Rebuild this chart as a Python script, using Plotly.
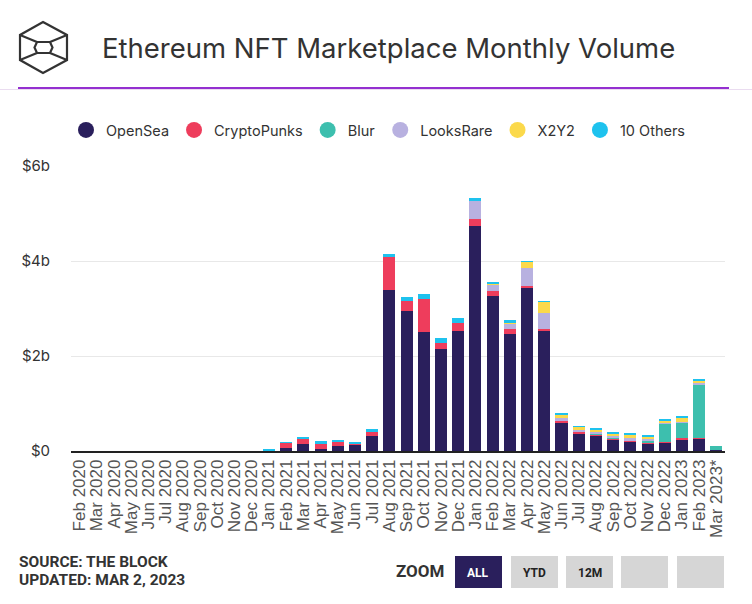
import plotly.graph_objects as go

months = ["Feb 2020", "Mar 2020", "Apr 2020", "May 2020", "Jun 2020", "Jul 2020", "Aug 2020",
          "Sep 2020", "Oct 2020", "Nov 2020", "Dec 2020", "Jan 2021", "Feb 2021", "Mar 2021",
          "Apr 2021", "May 2021", "Jun 2021", "Jul 2021", "Aug 2021", "Sep 2021", "Oct 2021",
          "Nov 2021", "Dec 2021", "Jan 2022", "Feb 2022", "Mar 2022", "Apr 2022", "May 2022",
          "Jun 2022", "Jul 2022", "Aug 2022", "Sep 2022", "Oct 2022", "Nov 2022", "Dec 2022",
          "Jan 2023", "Feb 2023", "Mar 2023*"]

# values in $ billions (2020 months are too small to see in the picture)
opensea = [0, 0, 0, 0, 0, 0, 0, 0, 0, 0, 0,
           0.012, 0.06, 0.15, 0.05, 0.11, 0.14, 0.31, 3.39, 2.95, 2.51, 2.15, 2.53,
           4.74, 3.26, 2.46, 3.43, 2.53, 0.61, 0.36, 0.32, 0.25, 0.21, 0.15, 0.17,
           0.25, 0.27, 0.02]
cryptopunks = [0, 0, 0, 0, 0, 0, 0, 0, 0, 0, 0,
               0.005, 0.11, 0.11, 0.10, 0.08, 0.01, 0.11, 0.69, 0.21, 0.69, 0.13, 0.17,
               0.15, 0.10, 0.10, 0.05, 0.04, 0.02, 0.06, 0.03, 0.02, 0.01, 0.02, 0.01,
               0.02, 0.01, 0.0]
blur = [0, 0, 0, 0, 0, 0, 0, 0, 0, 0, 0,
        0, 0, 0, 0, 0, 0, 0, 0, 0, 0, 0, 0,
        0, 0, 0, 0, 0, 0, 0, 0.02, 0.02, 0.01, 0.06, 0.40,
        0.32, 1.12, 0.09]
looksrare = [0, 0, 0, 0, 0, 0, 0, 0, 0, 0, 0,
             0, 0, 0, 0, 0, 0, 0, 0, 0, 0, 0, 0,
             0.38, 0.15, 0.13, 0.38, 0.34, 0.07, 0.02, 0.03, 0.02, 0.04, 0.04, 0.03,
             0.02, 0.04, 0.0]
x2y2 = [0, 0, 0, 0, 0, 0, 0, 0, 0, 0, 0,
        0, 0, 0, 0, 0, 0, 0, 0, 0, 0, 0, 0,
        0, 0.005, 0.01, 0.13, 0.23, 0.07, 0.07, 0.05, 0.05, 0.08, 0.04, 0.03,
        0.10, 0.05, 0.0]
others = [0, 0, 0, 0, 0, 0, 0, 0, 0, 0, 0,
          0.005, 0.01, 0.04, 0.06, 0.04, 0.03, 0.04, 0.07, 0.08, 0.11, 0.10, 0.10,
          0.06, 0.05, 0.05, 0.01, 0.01, 0.01, 0.01, 0.02, 0.02, 0.01, 0.02, 0.02,
          0.02, 0.02, 0.0]

series_names = ["OpenSea", "CryptoPunks", "Blur", "LooksRare", "X2Y2", "10 Others"]
series_vals = [opensea, cryptopunks, blur, looksrare, x2y2, others]
colors = ["#2a1f5c", "#ee3d5c", "#3dbfae", "#b8b1e0", "#fbd94b", "#1ec2ee"]

ytick_vals = [0, 2, 4, 6]
ytick_text = ["$0", "$2b", "$4b", "$6b"]

W, H = 752, 604
ML, MR, MT, MB = 71, 27, 166, 153
PW, PH = W - ML - MR, H - MT - MB


def px(x):
    return (x - ML) / PW


def py(y):
    return (H - MB - y) / PH


def make_path(pts, close=False):
    s = "M " + " L ".join(f"{px(a):.5f},{py(b):.5f}" for a, b in pts)
    if close:
        s += " Z"
    return s


fig = go.Figure()
for name, vals, col in zip(series_names, series_vals, colors):
    fig.add_trace(go.Bar(x=months, y=vals, name=name, marker_color=col,
                         marker_line_width=0, showlegend=False))
# legend entries with round markers
for name, col in zip(series_names, colors):
    fig.add_trace(go.Scatter(x=[None], y=[None], mode="markers", name=name,
                             marker=dict(color=col, size=17, symbol="circle")))

shapes = []
# header lines
shapes.append(dict(type="line", xref="paper", yref="paper", x0=px(0), x1=px(752),
                   y0=py(89.5), y1=py(89.5), line=dict(color="#eadcf0", width=1)))
shapes.append(dict(type="line", xref="paper", yref="paper", x0=px(18), x1=px(729),
                   y0=py(88), y1=py(88), line=dict(color="#9430d0", width=2)))

logo_col = "#333333"
outer = [(43, 22), (67, 35), (67, 60), (43, 73), (20, 60), (20, 35)]
shapes.append(dict(type="path", xref="paper", yref="paper", path=make_path(outer, True),
                   line=dict(color=logo_col, width=2.2)))
inner = [(37, 42), (50, 42), (52.5, 47.5), (50, 53), (37, 53), (34.5, 47.5)]
shapes.append(dict(type="path", xref="paper", yref="paper", path=make_path(inner, True),
                   line=dict(color=logo_col, width=2.2)))
for seg in [[(20, 35), (37, 42)], [(67, 35), (50, 42)], [(20, 60), (37, 53)], [(67, 60), (50, 53)]]:
    shapes.append(dict(type="path", xref="paper", yref="paper", path=make_path(seg),
                       line=dict(color=logo_col, width=2.2)))

# zoom buttons
btns = [(455, 502, "#2a1f5c", "ALL", "white"), (511, 558, "#d6d6d6", "YTD", "#222"),
        (566, 613, "#d6d6d6", "12M", "#222"), (621, 668, "#d6d6d6", "", "#222"),
        (677, 724, "#d6d6d6", "", "#222")]
annotations = []
for x0, x1, fc, label, tc in btns:
    shapes.append(dict(type="rect", xref="paper", yref="paper", x0=px(x0), x1=px(x1),
                       y0=py(588), y1=py(556), fillcolor=fc, line=dict(width=0)))
    if label:
        annotations.append(dict(xref="paper", yref="paper", x=px((x0 + x1) / 2), y=py(573),
                                text=f"<b>{label}</b>", showarrow=False,
                                font=dict(family="Roboto", size=12, color=tc),
                                xanchor="center", yanchor="middle"))

annotations.append(dict(xref="paper", yref="paper", x=px(446), y=py(571), text="<b>ZOOM</b>",
                        showarrow=False, font=dict(family="Roboto", size=17, color="#333"),
                        xanchor="right", yanchor="middle"))
annotations.append(dict(xref="paper", yref="paper", x=px(100), y=py(48),
                        text="Ethereum NFT Marketplace Monthly Volume", showarrow=False,
                        font=dict(family="Inter", size=27.5, color="#333"),
                        xanchor="left", yanchor="middle"))
annotations.append(dict(xref="paper", yref="paper", x=px(17), y=py(562),
                        text="<b>SOURCE: THE BLOCK</b>", showarrow=False,
                        font=dict(family="Roboto", size=15.5, color="#333"),
                        xanchor="left", yanchor="middle"))
annotations.append(dict(xref="paper", yref="paper", x=px(17), y=py(580),
                        text="<b>UPDATED: MAR 2, 2023</b>", showarrow=False,
                        font=dict(family="Roboto", size=15.5, color="#333"),
                        xanchor="left", yanchor="middle"))

fig.update_layout(
    width=W, height=H,
    margin=dict(l=ML, r=MR, t=MT, b=MB, pad=0),
    paper_bgcolor="white", plot_bgcolor="white",
    barmode="stack", bargap=0.3,
    shapes=shapes, annotations=annotations,
    legend=dict(orientation="h", x=px(66), y=py(130), xanchor="left", yanchor="middle",
                font=dict(family="Inter", size=14.5, color="#333"), itemwidth=30,
                traceorder="normal", bgcolor="rgba(0,0,0,0)"),
    xaxis=dict(type="category", tickangle=-90, showgrid=False, showline=True,
               linecolor="#222", linewidth=1.5, ticks="",
               tickmode="array", tickvals=months, ticktext=months,
               tickfont=dict(family="Liberation Sans", size=17, color="#555"),
               range=[-0.5, len(months) - 0.5], fixedrange=True),
    yaxis=dict(range=[0, 6], tickvals=ytick_vals, ticktext=ytick_text, showgrid=True,
               gridcolor="#e8e8e8", gridwidth=1, zeroline=False, ticks="",
               tickfont=dict(family="Inter", size=15, color="#333"),
               ticklabelstandoff=20, fixedrange=True),
    showlegend=True,
)

fig.write_html("out.html")
